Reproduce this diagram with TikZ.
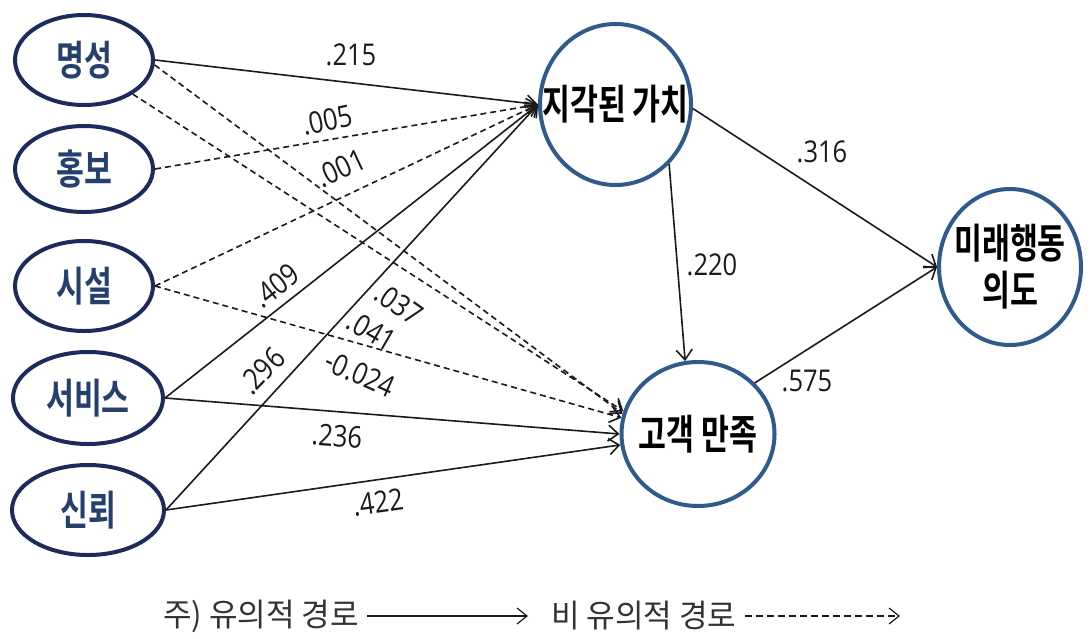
\documentclass[tikz,border=0pt]{standalone}
\usepackage{fontspec}
\usetikzlibrary{arrows.meta,shapes.geometric}
\newfontfamily\krfont{Noto Sans CJK KR}[FakeStretch=0.74,BoldFont={Noto Sans CJK KR Bold}]
\newfontfamily\legfont{Noto Sans CJK KR}[FakeStretch=0.97]
\newfontfamily\numfont{Open Sans}[FakeStretch=0.85]
\definecolor{navy}{HTML}{1C2B5C}
\definecolor{navytext}{HTML}{26406E}
\definecolor{circblue}{HTML}{2F5B8C}
\definecolor{edgec}{HTML}{1A1A1A}
\begin{document}
\begin{tikzpicture}[x=1pt,y=-1pt,
  src/.style={ellipse, draw=navy, line width=4pt, inner xsep=-40pt, inner ysep=-30pt, text=navytext,
    font=\krfont\bfseries\fontsize{41}{43}\selectfont},
  lat/.style={ellipse, draw=circblue, line width=4pt, inner xsep=-60pt, inner ysep=-40pt, align=center,
    font=\krfont\bfseries\fontsize{41}{47}\selectfont},
  sig/.style={draw=edgec, line width=1.6pt, -{Straight Barb[length=10pt,width=16pt]}},
  nsig/.style={sig, dash pattern=on 6pt off 4pt},
  coef/.style={font=\numfont\fontsize{30}{32}\selectfont, text=edgec, inner sep=0pt},
  legtext/.style={font=\legfont\fontsize{32}{34}\selectfont, text=black!80, inner sep=0pt, anchor=west},
]
\useasboundingbox (0,0) rectangle (1091,638);
\fill[white] (0,0) rectangle (1091,638);

% source constructs
\node[src, minimum width=138pt, minimum height=90pt] (ms) at (84,60) {명성};
\node[src, minimum width=138pt, minimum height=86pt] (hb) at (84,169) {홍보};
\node[src, minimum width=138pt, minimum height=90pt] (ss) at (84,286) {시설};
\node[src, minimum width=150pt, minimum height=92pt] (sv) at (88,398) {서비스};
\node[src, minimum width=152pt, minimum height=90pt] (sr) at (88,510) {신뢰};

% latent constructs
\node[lat, minimum width=151pt, minimum height=161pt] (vp) at (615.5,104.5) {지각된 가치};
\node[lat, minimum width=153pt, minimum height=144pt] (cs) at (698,434) {고객 만족};
\node[lat, minimum width=142pt, minimum height=156pt] (fb) at (1010,267) {미래행동\\의도};

% paths to perceived value
\draw[sig]  (ms.east) -- (vp.west);
\draw[nsig] (hb.east) -- (vp.west);
\draw[nsig] (ss.east) -- (vp.west);
\draw[sig]  (sv.east) -- (vp.west);
\draw[sig]  (sr.east) -- (vp.west);

% paths to satisfaction
\draw[nsig] (ms.-4)  -- (cs.165);
\draw[nsig] (ms.-35) -- (cs.163);
\draw[nsig] (ss.east) -- (cs.168);
\draw[sig]  (sv.east) -- (cs.west);
\draw[sig]  (sr.east) -- (cs.188);

% structural paths
\draw[sig] (vp.-48) -- (cs.100);
\draw[sig] (vp.-3) -- (fb.west);
\draw[sig] (cs.42) -- (fb.west);

% coefficients
\node[coef] (c215) at (351,55) {.215};
\node[coef, rotate=12] (c005) at (327,120) {.005};
\node[coef, rotate=25] (c001) at (341,168) {.001};
\node[coef, rotate=38] (c409) at (276,286) {.409};
\node[coef, rotate=46] (c296) at (262,371) {.296};
\node[coef, rotate=-35] (c037) at (399,304) {.037};
\node[coef, rotate=-30] (c041) at (372,331) {.041};
\node[coef, rotate=-24] (c024) at (360,374) {-0.024};
\node[coef, rotate=-4] (c236) at (337,436) {.236};
\node[coef, rotate=8] (c422) at (378,502) {.422};
\node[coef] (c316) at (822,152) {.316};
\node[coef] (c220) at (712,265) {.220};
\node[coef] (c575) at (807,381) {.575};

% legend
\node[legtext] (lg1) at (163,616) {주) 유의적 경로};
\coordinate (lg1e) at (528,616);
\draw[sig, line width=1.2pt] ([xshift=8pt]lg1.east) -- (lg1e);
\node[legtext] (lg2) at (551,616) {비 유의적 경로};
\coordinate (lg2e) at (900,616);
\draw[nsig, line width=1.2pt, dash pattern=on 7pt off 4pt] ([xshift=8pt]lg2.east) -- (lg2e);
\end{tikzpicture}
\end{document}
